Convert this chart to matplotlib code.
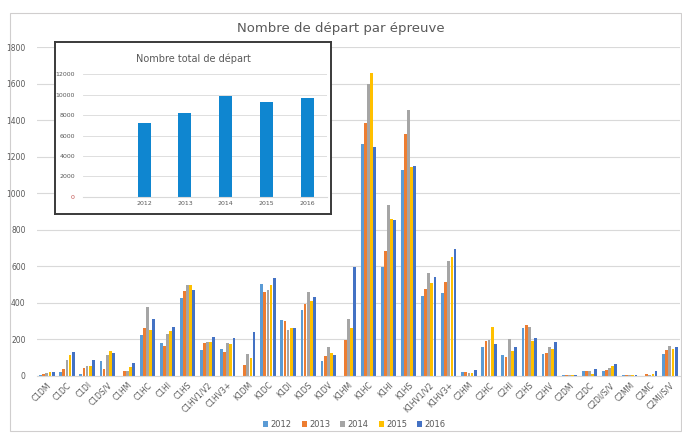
import matplotlib
matplotlib.use("Agg")
import matplotlib.pyplot as plt
import numpy as np

TEXT = "#595959"
GRID = "#d9d9d9"
COLORS = ["#5b9bd5", "#ed7d31", "#a5a5a5", "#ffc000", "#4472c4"]
INSET_BAR = "#0f86d0"

years = ["2012", "2013", "2014", "2015", "2016"]
epreuves = ["C1DM", "C1DC", "C1DI", "C1DS/V", "C1HM", "C1HC", "C1HI", "C1HS",
            "C1HV1/V2", "C1HV3+", "K1DM", "K1DC", "K1DI", "K1DS", "K1DV", "K1HM",
            "K1HC", "K1HI", "K1HS", "K1HV1/V2", "K1HV3+", "C2HM", "C2HC", "C2HI",
            "C2HS", "C2HV", "C2DM", "C2DC", "C2DI/S/V", "C2MM", "C2MC", "C2MI/S/V"]

v2012 = [5, 20, 10, 80, 0, 222, 180, 425, 141, 148, 0, 505, 306, 360, 84, 0,
         1270, 598, 1127, 437, 453, 20, 158, 112, 260, 121, 3, 26, 28, 2, 0, 120]
v2013 = [10, 40, 45, 40, 25, 260, 163, 462, 178, 130, 62, 457, 300, 392, 108, 196,
         1386, 684, 1324, 475, 515, 20, 190, 105, 278, 123, 3, 29, 31, 2, 10, 141]
v2014 = [15, 85, 52, 115, 25, 375, 230, 495, 185, 180, 118, 468, 252, 458, 156, 310,
         1601, 935, 1455, 563, 631, 17, 195, 202, 266, 160, 3, 26, 44, 2, 6, 163]
v2015 = [20, 115, 53, 138, 50, 250, 247, 495, 185, 177, 97, 500, 262, 412, 127, 263,
         1659, 859, 1142, 506, 653, 13, 265, 138, 192, 148, 3, 10, 53, 2, 8, 148]
v2016 = [20, 130, 85, 127, 70, 310, 265, 472, 214, 205, 240, 535, 264, 430, 112, 597,
         1254, 852, 1149, 541, 692, 30, 175, 160, 207, 185, 5, 35, 64, 2, 24, 160]
series = [v2012, v2013, v2014, v2015, v2016]

# inset: first category is empty in the original
total_labels = ["", "2012", "2013", "2014", "2015", "2016"]
total_values = [0, 7210, 8260, 9840, 9280, 9670]

fig = plt.figure(figsize=(6.82, 4.33), dpi=100)
fig.patch.set_facecolor("white")

# outer chart border
fig.add_artist(plt.Rectangle((0.014, 0.005), 0.984, 0.966, transform=fig.transFigure,
                             fill=False, edgecolor="#d0cece", linewidth=0.8))

ax = fig.add_axes([0.054, 0.132, 0.943, 0.759])
x = np.arange(len(epreuves))
w = 0.14
step = 0.155
for i, (yr, vals) in enumerate(zip(years, series)):
    ax.bar(x + (i - 2) * step, vals, width=w, color=COLORS[i], label=yr, zorder=2)

ax.set_xlim(-0.5, len(epreuves) - 0.5)
ax.set_ylim(0, 1800)
ax.set_yticks(range(0, 1801, 200))
ax.grid(axis="y", color=GRID, linewidth=0.8, zorder=0)
for side in ("top", "right", "left"):
    ax.spines[side].set_visible(False)
ax.spines["bottom"].set_color(GRID)
ax.set_xticks(x)
ax.set_xticklabels(epreuves, rotation=45, ha="right", rotation_mode="anchor")
ax.tick_params(axis="both", colors=TEXT, labelsize=5.5, length=0)
ax.tick_params(axis="y", pad=8)

fig.text(0.5, 0.935, "Nombre de départ par épreuve", ha="center", va="center",
         fontsize=9.5, color=TEXT)

leg = fig.legend(loc="center", bbox_to_anchor=(0.52, 0.02), ncol=5, frameon=False,
                 fontsize=6, handlelength=0.6, handleheight=0.6, columnspacing=1.2,
                 handletextpad=0.3)
for t in leg.get_texts():
    t.set_color(TEXT)

# inset box
box = fig.add_axes([0.081, 0.506, 0.404, 0.397])
box.set_xticks([])
box.set_yticks([])
box.set_facecolor("white")
for s in box.spines.values():
    s.set_color("#3a3a3a")
    s.set_linewidth(1.4)
box.text(0.5, 0.9, "Nombre total de départ", transform=box.transAxes, ha="center",
         va="center", fontsize=7, color=TEXT)

ins = fig.add_axes([0.122, 0.546, 0.358, 0.282])
ins.set_facecolor("none")
xi = np.arange(len(total_labels))
ins.bar(xi, total_values, width=0.32, color=INSET_BAR, zorder=2)
ins.set_xlim(-0.5, len(total_labels) - 0.5)
ins.set_ylim(0, 12000)
ins.set_yticks(range(0, 12001, 2000))
ins.set_xticks(xi)
ins.set_xticklabels(total_labels)
ins.grid(axis="y", color=GRID, linewidth=0.6, zorder=0)
for side in ("top", "right", "left"):
    ins.spines[side].set_visible(False)
ins.spines["bottom"].set_color(GRID)
ins.tick_params(axis="both", colors=TEXT, labelsize=4.5, length=0)
ins.tick_params(axis="y", pad=6)
ins.get_yticklabels()[0].set_color("#c0504d")

fig.savefig("out.png", dpi=100, facecolor="white")
